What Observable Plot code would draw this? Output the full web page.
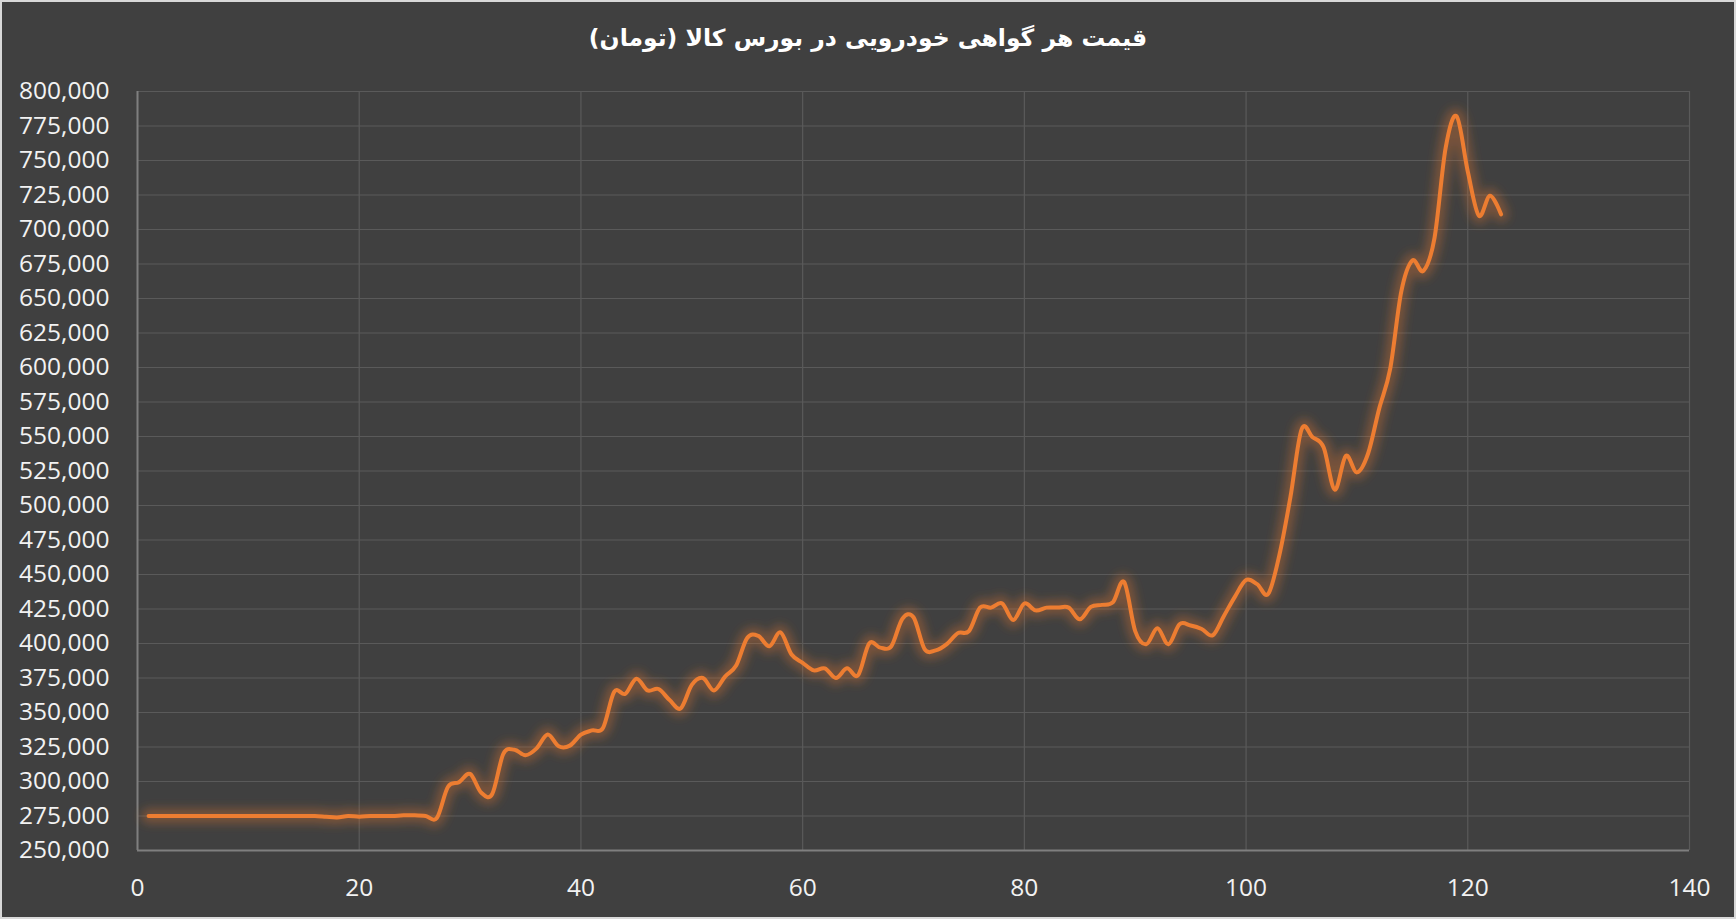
<!DOCTYPE html>
<html>
<head>
<meta charset="utf-8">
<script src="https://cdn.jsdelivr.net/npm/d3@7"></script>
<script src="https://cdn.jsdelivr.net/npm/@observablehq/plot@0.6"></script>
<style>
  html, body { margin: 0; padding: 0; background: #d9d9d9; }
  #frame { position: relative; width: 1736px; height: 919px; box-sizing: border-box; border: 2px solid #d9d9d9; background: #404040; overflow: hidden; }
  #title { height: 68px; line-height: 72px; text-align: center; color: #ffffff; font-family: "DejaVu Sans", sans-serif; font-weight: bold; font-size: 23.5px; direction: rtl; }
  #chart svg { display: block; }
</style>
</head>
<body>
<div id="frame">
  <div id="title">قیمت هر گواهی خودرویی در بورس کالا (تومان)</div>
  <div id="chart"></div>
</div>
<script>
const xTicks = [0, 20, 40, 60, 80, 100, 120, 140];
const yTicks = [250000, 275000, 300000, 325000, 350000, 375000, 400000, 425000, 450000, 475000, 500000, 525000, 550000, 575000, 600000, 625000, 650000, 675000, 700000, 725000, 750000, 775000, 800000];

// price per certificate (toman), day 1 .. 123
const prices = [
  275000, 275000, 275000, 275000, 275000, 275000, 275000, 275000, 275000, 275000,
  275000, 275000, 275000, 275000, 275000, 275000, 274500, 274000, 275000, 274500,
  275000, 275000, 275000, 275500, 275500, 275000, 273500, 296000, 299500, 305500,
  292000, 291000, 320000, 323000, 319000, 324000, 334000, 325500, 326000, 334000,
  337000, 339000, 365000, 363500, 374500, 366000, 367000, 359000, 353000, 370000,
  375000, 366000, 376000, 384000, 404000, 405500, 398000, 408000, 392000, 386000,
  380500, 382000, 375000, 382000, 377000, 400000, 397000, 398000, 418000, 419000,
  396000, 395000, 399500, 407500, 409000, 426000, 426000, 429000, 417000, 429000,
  424000, 426000, 426000, 426000, 417500, 426500, 428000, 430000, 444500, 409000,
  399500, 411000, 399500, 414000, 413000, 410500, 406000, 420000, 434000, 446000,
  443000, 436000, 464000, 506000, 555000, 549500, 542000, 511500, 536000, 524000,
  537500, 570000, 599000, 655000, 677500, 670000, 694000, 759000, 782000, 742000,
  710000, 724500, 711000
];

const data = prices.map((p, i) => ({day: i + 1, price: p}));

const chart = Plot.plot({
  width: 1732,
  height: 847,
  marginTop: 21,
  marginBottom: 67,
  marginLeft: 135,
  marginRight: 45,
  style: {background: "transparent", color: "#f2f2f2", fontFamily: "'Open Sans', sans-serif", fontSize: "24.5px", overflow: "visible"},
  x: {domain: [0, 140], ticks: xTicks, tickSize: 0, tickPadding: 28, label: null},
  y: {domain: [250000, 800000], ticks: yTicks, tickSize: 0, tickPadding: 28, tickFormat: d3.format(","), label: null},
  marks: [
    Plot.gridY(yTicks, {stroke: "#5a5a5a", strokeOpacity: 1, strokeWidth: 1.2}),
    Plot.gridX(xTicks, {stroke: "#5a5a5a", strokeOpacity: 1, strokeWidth: 1.2}),
    Plot.ruleX([0], {stroke: "#7f7f7f", strokeWidth: 2}),
    Plot.ruleY([250000], {stroke: "#7f7f7f", strokeWidth: 2}),
    Plot.line(data, {x: "day", y: "price", stroke: "#D2702C", strokeWidth: 15, strokeOpacity: 0.38, curve: "cardinal"}),
    Plot.line(data, {x: "day", y: "price", stroke: "#ED7D31", strokeWidth: 4, curve: "cardinal"})
  ]
});
document.getElementById("chart").appendChild(chart);

// soft orange glow under the line
try {
  const ns = "http://www.w3.org/2000/svg";
  const defs = document.createElementNS(ns, "defs");
  const filter = document.createElementNS(ns, "filter");
  filter.setAttribute("id", "lineGlow");
  filter.setAttribute("filterUnits", "userSpaceOnUse");
  filter.setAttribute("x", "0");
  filter.setAttribute("y", "0");
  filter.setAttribute("width", "1732");
  filter.setAttribute("height", "847");
  const blur = document.createElementNS(ns, "feGaussianBlur");
  blur.setAttribute("stdDeviation", "5");
  filter.appendChild(blur);
  defs.appendChild(filter);
  chart.appendChild(defs);
  const lines = chart.querySelectorAll('g[aria-label="line"]');
  if (lines.length) lines[0].setAttribute("filter", "url(#lineGlow)");
} catch (e) {}
</script>
</body>
</html>
